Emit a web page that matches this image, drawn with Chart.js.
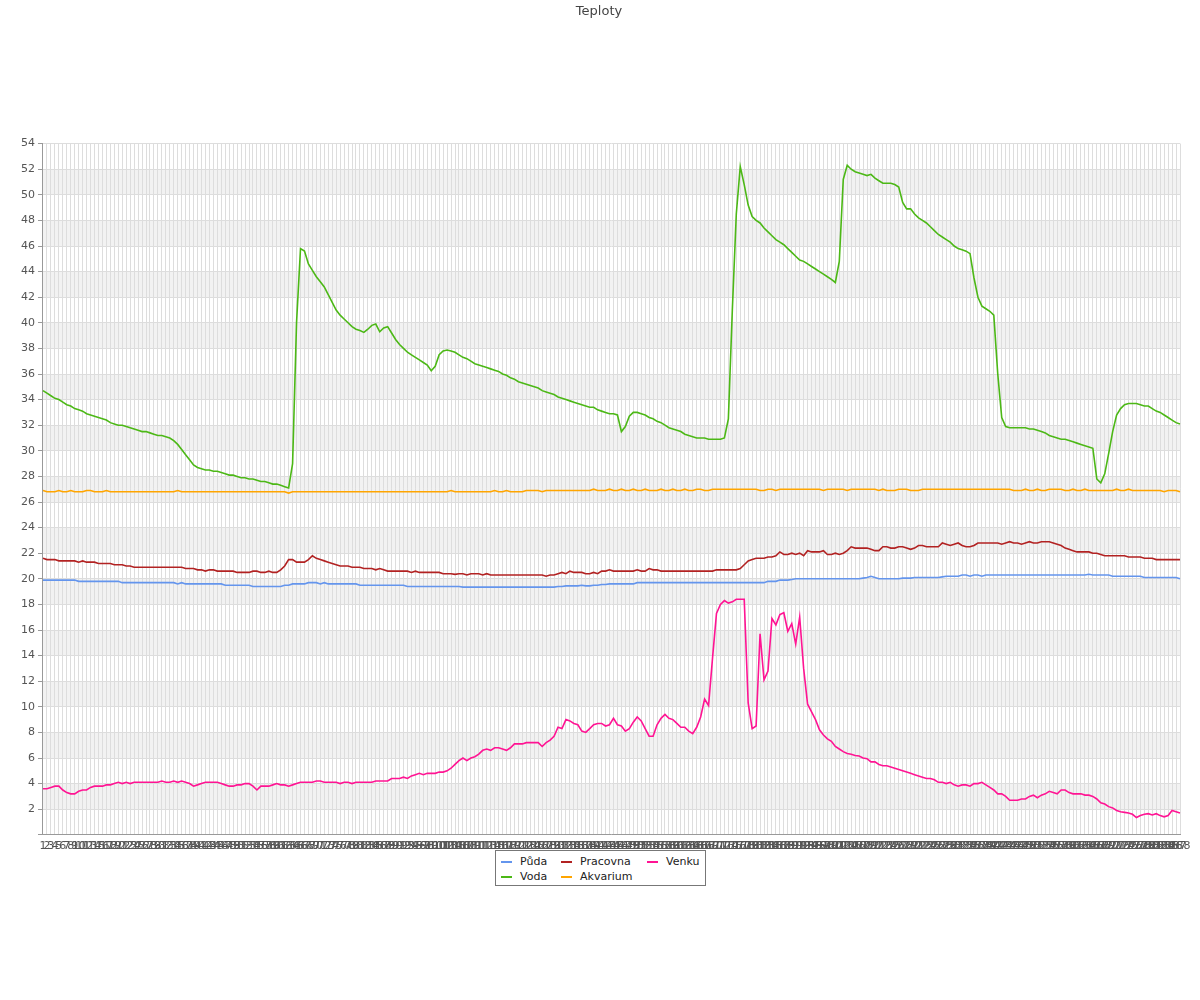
<!DOCTYPE html>
<html>
<head>
<meta charset="utf-8">
<script src="https://cdn.jsdelivr.net/npm/chart.js@4.4.1/dist/chart.umd.min.js"></script>
<style>
html,body{margin:0;padding:0;background:#fff;}
#wrap{position:relative;width:1200px;height:1000px;}
#legend{position:absolute;left:495px;top:850px;width:211px;height:36px;border:1px solid #777;font:11px "DejaVu Sans",sans-serif;color:#222;box-sizing:border-box;background:#fff;}
.sw{position:absolute;width:11px;height:2px;}
.lt{position:absolute;line-height:13px;white-space:nowrap;}
</style>
</head>
<body>
<div id="wrap">
<canvas id="c" width="1200" height="1000"></canvas>
<div id="legend"></div>
</div>
<script>
const title = 'Teploty';
const seriesNames = ['Půda', 'Voda', 'Pracovna', 'Akvarium', 'Venku'];
const seriesColors = ['#6495ED', '#4CB816', '#B22222', '#FFA500', '#FF1493'];
const categories = Array.from({length: 288}, (_, i) => String(i + 1));
const yTickMin = 0, yTickMax = 54, yTickStep = 2;

const puda = [
19.9,19.9,19.9,19.9,19.9,19.9,19.9,19.9,19.9,19.8,
19.8,19.8,19.8,19.8,19.8,19.8,19.8,19.8,19.8,19.8,
19.7,19.7,19.7,19.7,19.7,19.7,19.7,19.7,19.7,19.7,
19.7,19.7,19.7,19.7,19.6,19.7,19.6,19.6,19.6,19.6,
19.6,19.6,19.6,19.6,19.6,19.6,19.5,19.5,19.5,19.5,
19.5,19.5,19.5,19.4,19.4,19.4,19.4,19.4,19.4,19.4,
19.4,19.5,19.5,19.6,19.6,19.6,19.6,19.7,19.7,19.7,
19.6,19.7,19.6,19.6,19.6,19.6,19.6,19.6,19.6,19.6,
19.5,19.5,19.5,19.5,19.5,19.5,19.5,19.5,19.5,19.5,
19.5,19.5,19.4,19.4,19.4,19.4,19.4,19.4,19.4,19.4,
19.4,19.4,19.4,19.4,19.4,19.4,19.35,19.35,19.35,19.35,
19.35,19.35,19.35,19.35,19.35,19.35,19.35,19.35,19.35,19.35,
19.35,19.35,19.35,19.35,19.35,19.35,19.35,19.35,19.35,19.35,
19.4,19.4,19.45,19.45,19.45,19.45,19.5,19.45,19.45,19.5,
19.5,19.55,19.55,19.6,19.6,19.6,19.6,19.6,19.6,19.6,
19.7,19.7,19.7,19.7,19.7,19.7,19.7,19.7,19.7,19.7,
19.7,19.7,19.7,19.7,19.7,19.7,19.7,19.7,19.7,19.7,
19.7,19.7,19.7,19.7,19.7,19.7,19.7,19.7,19.7,19.7,
19.7,19.7,19.7,19.8,19.8,19.8,19.9,19.9,19.9,19.95,
20.0,20.0,20.0,20.0,20.0,20.0,20.0,20.0,20.0,20.0,
20.0,20.0,20.0,20.0,20.0,20.0,20.0,20.05,20.1,20.2,
20.1,20.0,20.0,20.0,20.0,20.0,20.0,20.05,20.05,20.05,
20.1,20.1,20.1,20.1,20.1,20.1,20.1,20.15,20.2,20.2,
20.2,20.2,20.3,20.3,20.2,20.3,20.3,20.2,20.3,20.3,
20.3,20.3,20.3,20.3,20.3,20.3,20.3,20.3,20.3,20.3,
20.3,20.3,20.3,20.3,20.3,20.3,20.3,20.3,20.3,20.3,
20.3,20.3,20.3,20.3,20.35,20.3,20.3,20.3,20.3,20.3,
20.2,20.2,20.2,20.2,20.2,20.2,20.2,20.2,20.1,20.1,
20.1,20.1,20.1,20.1,20.1,20.1,20.1,20.0
];

const voda = [
34.7,34.5,34.3,34.1,34.0,33.8,33.6,33.5,33.3,33.2,
33.1,32.9,32.8,32.7,32.6,32.5,32.4,32.2,32.1,32.0,
32.0,31.9,31.8,31.7,31.6,31.5,31.5,31.4,31.3,31.2,
31.2,31.1,31.0,30.8,30.5,30.1,29.7,29.3,28.9,28.7,
28.6,28.5,28.5,28.4,28.4,28.3,28.2,28.1,28.1,28.0,
27.9,27.9,27.8,27.8,27.7,27.6,27.6,27.5,27.4,27.4,
27.3,27.2,27.1,29.0,40.0,45.8,45.6,44.6,44.1,43.6,
43.2,42.8,42.2,41.6,41.0,40.6,40.3,40.0,39.7,39.5,
39.4,39.25,39.5,39.8,39.9,39.3,39.6,39.7,39.2,38.7,
38.3,38.0,37.7,37.5,37.3,37.1,36.9,36.7,36.25,36.6,
37.5,37.8,37.87,37.8,37.7,37.5,37.3,37.2,37.0,36.8,
36.7,36.6,36.5,36.4,36.3,36.2,36.0,35.9,35.7,35.6,
35.4,35.3,35.2,35.1,35.0,34.9,34.7,34.6,34.5,34.4,
34.2,34.1,34.0,33.9,33.8,33.7,33.6,33.5,33.4,33.4,
33.2,33.1,33.0,32.9,32.9,32.8,31.5,31.9,32.7,33.0,
33.0,32.9,32.8,32.6,32.5,32.3,32.2,32.0,31.8,31.7,
31.6,31.5,31.3,31.2,31.1,31.0,31.0,31.0,30.9,30.9,
30.9,30.9,31.0,32.5,41.0,48.5,52.2,50.8,49.2,48.3,
48.0,47.8,47.4,47.1,46.8,46.5,46.3,46.1,45.8,45.5,
45.2,44.9,44.8,44.6,44.4,44.2,44.0,43.8,43.6,43.4,
43.15,44.8,51.2,52.3,52.0,51.8,51.7,51.6,51.5,51.6,
51.3,51.1,50.9,50.9,50.9,50.8,50.6,49.4,48.9,48.9,
48.5,48.2,48.0,47.8,47.5,47.2,46.9,46.7,46.5,46.3,
46.0,45.8,45.7,45.6,45.4,43.5,42.0,41.3,41.1,40.9,
40.6,36.0,32.6,31.9,31.8,31.8,31.8,31.8,31.8,31.7,
31.7,31.6,31.5,31.4,31.2,31.1,31.0,30.9,30.9,30.8,
30.7,30.6,30.5,30.4,30.3,30.2,27.8,27.5,28.2,29.8,
31.5,32.8,33.3,33.6,33.7,33.7,33.7,33.6,33.5,33.5,
33.3,33.1,33.0,32.8,32.6,32.4,32.2,32.1
];

const pracovna = [
21.6,21.5,21.5,21.5,21.4,21.4,21.4,21.4,21.4,21.3,
21.4,21.3,21.3,21.3,21.2,21.2,21.2,21.2,21.1,21.1,
21.1,21.0,21.0,20.9,20.9,20.9,20.9,20.9,20.9,20.9,
20.9,20.9,20.9,20.9,20.9,20.9,20.8,20.8,20.8,20.7,
20.7,20.6,20.7,20.7,20.6,20.6,20.6,20.6,20.6,20.5,
20.5,20.5,20.5,20.6,20.6,20.5,20.5,20.6,20.5,20.5,
20.7,21.0,21.5,21.5,21.3,21.3,21.3,21.5,21.8,21.6,
21.5,21.4,21.3,21.2,21.1,21.0,21.0,21.0,20.9,20.9,
20.9,20.8,20.8,20.8,20.7,20.8,20.7,20.6,20.6,20.6,
20.6,20.6,20.6,20.5,20.6,20.5,20.5,20.5,20.5,20.5,
20.5,20.4,20.4,20.4,20.35,20.4,20.4,20.3,20.4,20.4,
20.4,20.3,20.4,20.3,20.3,20.3,20.3,20.3,20.3,20.3,
20.3,20.3,20.3,20.3,20.3,20.3,20.3,20.2,20.3,20.3,
20.4,20.5,20.4,20.6,20.5,20.5,20.5,20.4,20.4,20.5,
20.4,20.6,20.6,20.7,20.6,20.6,20.6,20.6,20.6,20.6,
20.7,20.6,20.6,20.8,20.7,20.7,20.6,20.6,20.6,20.6,
20.6,20.6,20.6,20.6,20.6,20.6,20.6,20.6,20.6,20.6,
20.7,20.7,20.7,20.7,20.7,20.7,20.8,21.1,21.4,21.5,
21.6,21.6,21.6,21.7,21.7,21.8,22.1,21.9,21.9,22.0,
21.9,22.0,21.8,22.2,22.1,22.1,22.1,22.2,21.9,21.9,
22.0,21.9,22.0,22.2,22.5,22.4,22.4,22.4,22.4,22.3,
22.2,22.2,22.5,22.5,22.4,22.4,22.5,22.5,22.4,22.3,
22.4,22.6,22.6,22.5,22.5,22.5,22.5,22.8,22.7,22.6,
22.7,22.8,22.6,22.5,22.5,22.6,22.8,22.8,22.8,22.8,
22.8,22.8,22.7,22.8,22.9,22.8,22.8,22.7,22.8,22.9,
22.8,22.8,22.9,22.9,22.9,22.8,22.7,22.6,22.4,22.3,
22.2,22.1,22.1,22.1,22.1,22.0,22.0,21.9,21.8,21.8,
21.8,21.8,21.8,21.8,21.7,21.7,21.7,21.7,21.6,21.6,
21.6,21.5,21.5,21.5,21.5,21.5,21.5,21.5
];

const akvarium = [
26.9,26.8,26.8,26.8,26.9,26.8,26.8,26.9,26.8,26.8,
26.8,26.9,26.9,26.8,26.8,26.8,26.9,26.8,26.8,26.8,
26.8,26.8,26.8,26.8,26.8,26.8,26.8,26.8,26.8,26.8,
26.8,26.8,26.8,26.8,26.9,26.8,26.8,26.8,26.8,26.8,
26.8,26.8,26.8,26.8,26.8,26.8,26.8,26.8,26.8,26.8,
26.8,26.8,26.8,26.8,26.8,26.8,26.8,26.8,26.8,26.8,
26.8,26.8,26.7,26.8,26.8,26.8,26.8,26.8,26.8,26.8,
26.8,26.8,26.8,26.8,26.8,26.8,26.8,26.8,26.8,26.8,
26.8,26.8,26.8,26.8,26.8,26.8,26.8,26.8,26.8,26.8,
26.8,26.8,26.8,26.8,26.8,26.8,26.8,26.8,26.8,26.8,
26.8,26.8,26.8,26.9,26.8,26.8,26.8,26.8,26.8,26.8,
26.8,26.8,26.8,26.8,26.9,26.8,26.8,26.9,26.8,26.8,
26.8,26.8,26.9,26.9,26.9,26.9,26.8,26.9,26.9,26.9,
26.9,26.9,26.9,26.9,26.9,26.9,26.9,26.9,26.9,27.0,
26.9,26.9,26.9,27.0,26.9,26.9,27.0,26.9,26.9,27.0,
26.9,26.9,27.0,26.9,26.9,26.9,27.0,26.9,26.9,27.0,
26.9,26.9,27.0,26.9,26.9,27.0,27.0,26.9,26.9,27.0,
27.0,27.0,27.0,27.0,27.0,27.0,27.0,27.0,27.0,27.0,
27.0,26.9,26.9,27.0,27.0,26.9,27.0,27.0,27.0,27.0,
27.0,27.0,27.0,27.0,27.0,27.0,27.0,26.9,27.0,27.0,
27.0,27.0,27.0,26.9,27.0,27.0,27.0,27.0,27.0,27.0,
27.0,26.9,27.0,26.9,26.9,26.9,27.0,27.0,27.0,26.9,
26.9,26.9,27.0,27.0,27.0,27.0,27.0,27.0,27.0,27.0,
27.0,27.0,27.0,27.0,27.0,27.0,27.0,27.0,27.0,27.0,
27.0,27.0,27.0,27.0,27.0,26.9,26.9,26.9,27.0,26.9,
26.9,27.0,26.9,26.9,27.0,27.0,27.0,27.0,26.9,26.9,
27.0,26.9,26.9,27.0,26.9,26.9,26.9,26.9,26.9,26.9,
26.9,27.0,26.9,26.9,27.0,26.9,26.9,26.9,26.9,26.9,
26.9,26.9,26.9,26.8,26.9,26.9,26.9,26.8
];

const venku = [
3.6,3.6,3.7,3.8,3.8,3.5,3.3,3.2,3.2,3.4,
3.5,3.5,3.7,3.8,3.8,3.8,3.9,3.9,4.0,4.1,
4.0,4.1,4.0,4.1,4.1,4.1,4.1,4.1,4.1,4.1,
4.2,4.1,4.1,4.2,4.1,4.2,4.1,4.0,3.8,3.9,
4.0,4.1,4.1,4.1,4.1,4.0,3.9,3.8,3.8,3.9,
3.9,4.0,4.0,3.8,3.5,3.8,3.8,3.8,3.9,4.0,
3.9,3.9,3.8,3.9,4.0,4.1,4.1,4.1,4.1,4.2,
4.2,4.1,4.1,4.1,4.1,4.0,4.1,4.1,4.0,4.1,
4.1,4.1,4.1,4.1,4.2,4.2,4.2,4.2,4.4,4.4,
4.4,4.5,4.4,4.6,4.7,4.8,4.7,4.8,4.8,4.8,
4.9,4.9,5.0,5.2,5.5,5.8,6.0,5.8,6.0,6.1,
6.3,6.6,6.7,6.6,6.8,6.8,6.7,6.6,6.8,7.1,
7.1,7.1,7.2,7.2,7.2,7.2,6.9,7.2,7.4,7.7,
8.4,8.3,9.0,8.9,8.7,8.6,8.1,8.0,8.3,8.6,
8.7,8.7,8.5,8.6,9.1,8.6,8.5,8.1,8.3,8.8,
9.2,8.9,8.3,7.7,7.7,8.6,9.1,9.4,9.1,9.0,
8.7,8.4,8.4,8.1,7.9,8.4,9.2,10.6,10.1,13.8,
17.3,18.0,18.3,18.1,18.2,18.4,18.4,18.4,10.3,8.3,
8.5,15.7,12.1,12.8,16.9,16.4,17.2,17.35,15.9,16.5,
14.9,17.0,13.0,10.2,9.6,9.0,8.2,7.8,7.5,7.3,
6.9,6.7,6.5,6.35,6.3,6.2,6.15,6.0,5.95,5.7,
5.7,5.5,5.4,5.4,5.3,5.2,5.1,5.0,4.9,4.8,
4.7,4.6,4.5,4.4,4.4,4.3,4.1,4.1,4.0,4.1,
3.9,3.8,3.9,3.9,3.8,4.0,4.0,4.1,3.9,3.7,
3.5,3.2,3.2,3.0,2.7,2.7,2.7,2.8,2.8,3.0,
3.1,2.9,3.1,3.2,3.4,3.3,3.2,3.5,3.5,3.3,
3.2,3.2,3.2,3.1,3.1,3.0,2.8,2.5,2.4,2.2,
2.1,1.9,1.8,1.75,1.7,1.6,1.35,1.5,1.6,1.65,
1.55,1.65,1.5,1.4,1.5,1.9,1.8,1.7
];

const seriesData = [puda, voda, pracovna, akvarium, venku];

// alternating horizontal bands behind the grid
const bandPlugin = {
  id: 'bands',
  beforeDraw(chart) {
    const {ctx, chartArea: a, scales: {y}} = chart;
    ctx.save();
    ctx.fillStyle = '#f2f2f2';
    for (let v = yTickMin + 2; v < yTickMax; v += 4) {
      const top = y.getPixelForValue(Math.min(v + 2, yTickMax));
      const bot = y.getPixelForValue(v);
      ctx.fillRect(a.left, top, a.right - a.left, bot - top);
    }
    ctx.restore();
  }
};

Chart.defaults.font.family = '"DejaVu Sans", sans-serif';
Chart.defaults.color = '#555';

new Chart(document.getElementById('c'), {
  type: 'line',
  data: {
    labels: categories,
    datasets: seriesNames.map((n, k) => ({
      label: n,
      data: seriesData[k],
      borderColor: seriesColors[k],
      backgroundColor: seriesColors[k],
      borderWidth: 1.6,
      pointRadius: 0,
      tension: 0,
      fill: false
    }))
  },
  options: {
    responsive: false,
    animation: false,
    events: [],
    layout: {padding: {left: 18, right: 20, top: 0, bottom: 142}},
    plugins: {
      legend: {display: false},
      tooltip: {enabled: false},
      title: {
        display: true,
        text: title,
        color: '#444',
        font: {size: 13, weight: 'normal'},
        padding: {top: 4, bottom: 124}
      }
    },
    scales: {
      x: {
        grid: {color: '#dddddd', drawTicks: false, lineWidth: 1},
        border: {color: '#999999', width: 1},
        ticks: {autoSkip: false, maxRotation: 0, minRotation: 0, padding: 5, color: '#555', font: {size: 11}}
      },
      y: {
        min: yTickMin,
        max: yTickMax,
        grid: {
          color: c => (c.tick && c.tick.value % yTickStep === 0) ? '#dddddd' : 'rgba(0,0,0,0)',
          tickColor: '#999999',
          tickLength: 5,
          drawTicks: true
        },
        border: {color: '#999999', width: 1},
        ticks: {
          stepSize: 1,
          padding: 3,
          color: '#555',
          font: {size: 11},
          callback: v => (v % yTickStep === 0 && v !== 0) ? String(v) : ''
        }
      }
    }
  },
  plugins: [bandPlugin]
});

// legend laid out in two rows, column-major like the original
const lg = document.getElementById('legend');
const colX = [5, 65, 151];
seriesNames.forEach((n, k) => {
  const col = Math.floor(k / 2), row = k % 2;
  const sw = document.createElement('div');
  sw.className = 'sw';
  sw.style.background = seriesColors[k];
  sw.style.left = colX[col] + 'px';
  sw.style.top = (10 + row * 15) + 'px';
  lg.appendChild(sw);
  const t = document.createElement('div');
  t.className = 'lt';
  t.textContent = n;
  t.style.left = (colX[col] + 19) + 'px';
  t.style.top = (4 + row * 15) + 'px';
  lg.appendChild(t);
});
</script>
</body>
</html>
